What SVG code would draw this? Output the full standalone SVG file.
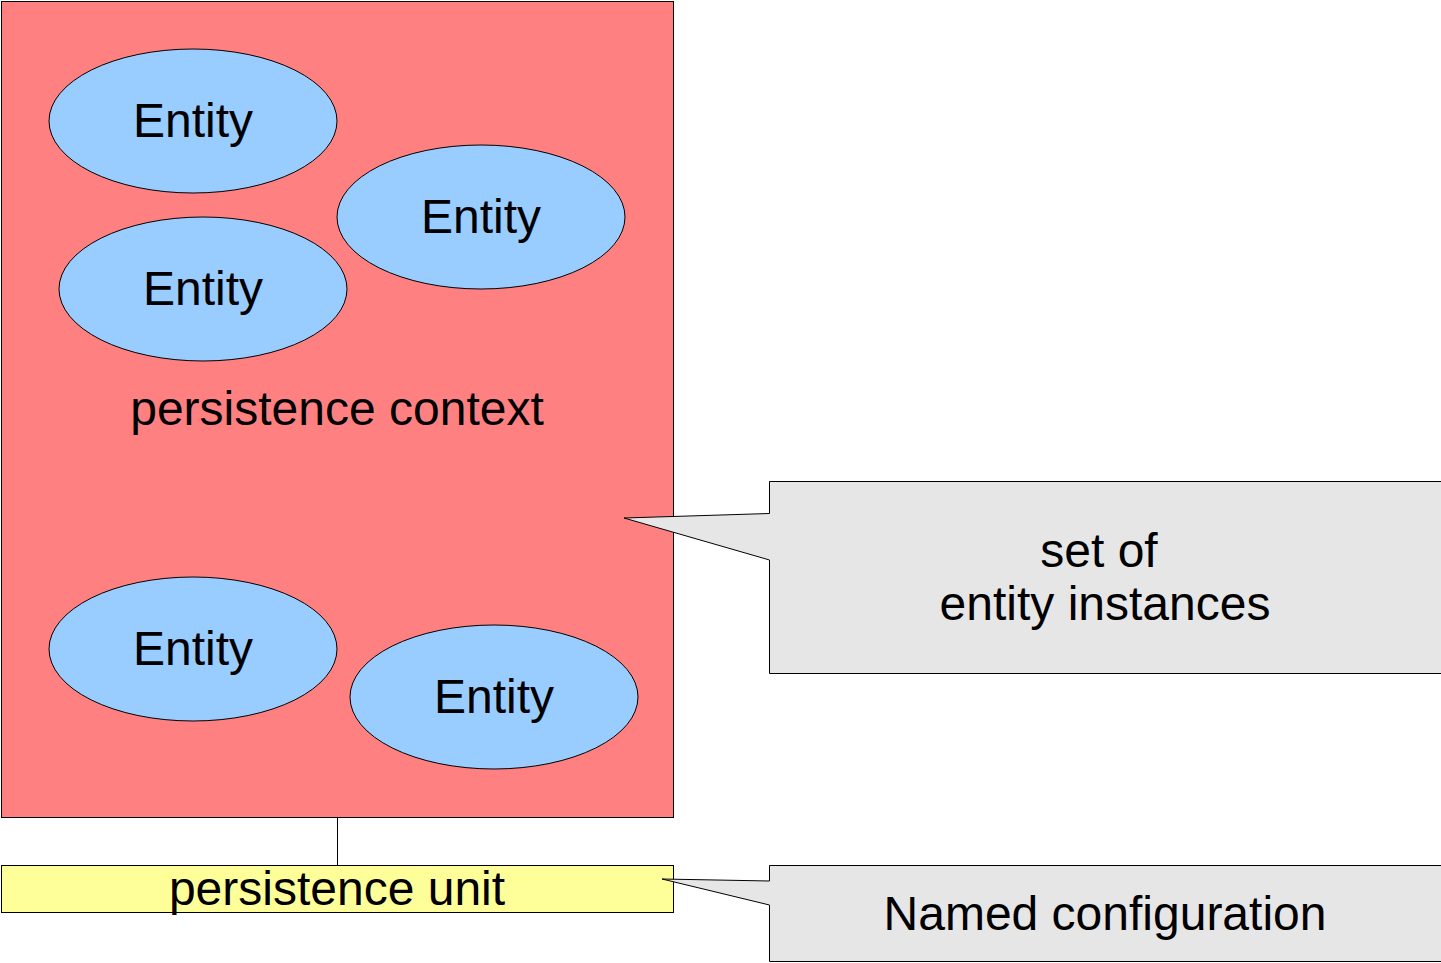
<svg xmlns="http://www.w3.org/2000/svg" width="1441" height="963" viewBox="0 0 1441 963">
<style>
text{font-family:"Liberation Sans",Arial,sans-serif;font-size:48px;fill:#000;text-anchor:middle}
.ent{fill:#99ccff;stroke:#000;stroke-width:1}
.call{fill:#e6e6e6;stroke:#000;stroke-width:1}
</style>
<rect width="1441" height="963" fill="#fff"/>
<g id="persistence-context">
<rect x="1.5" y="1.5" width="672" height="816" fill="#ff8080" stroke="#000" stroke-width="1"/>
<text x="337" y="425">persistence context</text>
</g>
<g id="connectors">
<line x1="337.5" y1="817.5" x2="337.5" y2="865.5" stroke="#000" stroke-width="1"/>
</g>
<g id="entity1"><ellipse class="ent" cx="193" cy="121" rx="144" ry="72"/><text x="193" y="137">Entity</text></g>
<g id="entity2"><ellipse class="ent" cx="481" cy="217" rx="144" ry="72"/><text x="481" y="233">Entity</text></g>
<g id="entity3"><ellipse class="ent" cx="203" cy="289" rx="144" ry="72"/><text x="203" y="305">Entity</text></g>
<g id="entity4"><ellipse class="ent" cx="193" cy="649" rx="144" ry="72"/><text x="193" y="665">Entity</text></g>
<g id="entity5"><ellipse class="ent" cx="494" cy="697" rx="144" ry="72"/><text x="494" y="713">Entity</text></g>
<g id="persistence-unit">
<rect x="1.5" y="865.5" width="672" height="47" fill="#ffff99" stroke="#000" stroke-width="1"/>
<text x="337" y="905">persistence unit</text>
</g>
<g id="callout-set">
<path class="call" d="M1442 481.5 H769.5 V513.5 L624 518 L769.5 560 V673.5 H1442"/>
<text x="1099" y="567">set of</text>
<text x="1105" y="620">entity instances</text>
</g>
<g id="callout-named">
<path class="call" d="M1442 865.5 H769.5 V881 L662 879 L769.5 905 V961.5 H1442"/>
<text x="1105" y="930">Named configuration</text>
</g>
</svg>
